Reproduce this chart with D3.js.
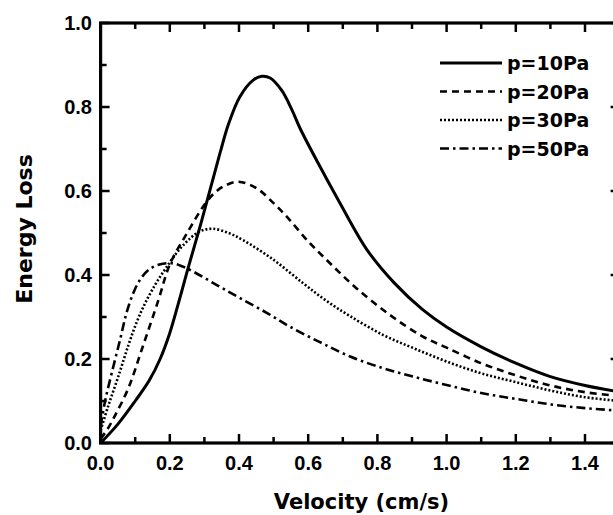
<!DOCTYPE html>
<html>
<head>
<meta charset="utf-8">
<script src="https://cdn.jsdelivr.net/npm/d3@7"></script>
<style>
  html, body { margin: 0; padding: 0; background: #fff; }
  svg { display: block; }
</style>
</head>
<body>
<svg id="chart" width="613" height="515"></svg>
<script>
// ---- data ----
const seriesNames = ["p=10Pa", "p=20Pa", "p=30Pa", "p=50Pa"];
const p10 = [[0,0],[0.05,0.045],[0.1,0.1],[0.14,0.148],[0.172,0.2],[0.2,0.262],[0.225,0.333],[0.25,0.408],[0.29,0.523],[0.345,0.69],[0.369,0.758],[0.403,0.825],[0.441,0.864],[0.466,0.873],[0.49,0.869],[0.523,0.84],[0.552,0.795],[0.576,0.75],[0.625,0.672],[0.69,0.574],[0.77,0.46],[0.85,0.38],[0.93,0.318],[1.0,0.276],[1.1,0.229],[1.2,0.19],[1.3,0.158],[1.4,0.137],[1.5,0.122]];
const p20 = [[0,0.01],[0.02,0.033],[0.042,0.066],[0.08,0.13],[0.12,0.225],[0.167,0.34],[0.2,0.425],[0.25,0.5],[0.3,0.567],[0.33,0.596],[0.36,0.613],[0.398,0.622],[0.45,0.607],[0.5,0.571],[0.54,0.537],[0.6,0.48],[0.663,0.428],[0.74,0.368],[0.836,0.305],[0.93,0.254],[1.0,0.227],[1.1,0.19],[1.2,0.161],[1.3,0.137],[1.4,0.121],[1.5,0.112]];
const p30 = [[0,0.03],[0.022,0.088],[0.051,0.158],[0.08,0.232],[0.105,0.289],[0.13,0.335],[0.16,0.38],[0.19,0.418],[0.225,0.458],[0.26,0.488],[0.29,0.505],[0.325,0.51],[0.37,0.5],[0.412,0.483],[0.5,0.436],[0.586,0.38],[0.65,0.34],[0.721,0.302],[0.817,0.257],[0.904,0.226],[1.0,0.194],[1.1,0.166],[1.2,0.145],[1.3,0.125],[1.4,0.109],[1.5,0.1]];
const p50 = [[0,0.04],[0.013,0.1],[0.032,0.166],[0.056,0.245],[0.075,0.31],[0.095,0.358],[0.115,0.39],[0.14,0.413],[0.17,0.425],[0.205,0.428],[0.235,0.421],[0.268,0.408],[0.336,0.376],[0.403,0.345],[0.48,0.31],[0.547,0.277],[0.634,0.24],[0.721,0.206],[0.817,0.178],[0.904,0.158],[1.0,0.138],[1.1,0.119],[1.2,0.105],[1.3,0.092],[1.4,0.083],[1.5,0.077]];
const xMajorTicks = [0.0,0.2,0.4,0.6,0.8,1.0,1.2,1.4];
const xMinorTicks = [0.1,0.3,0.5,0.7,0.9,1.1,1.3];
const yMajorTicks = [0.0,0.2,0.4,0.6,0.8,1.0];
const yMinorTicks = [0.1,0.3,0.5,0.7,0.9];
const xTitle = "Velocity (cm/s)";
const yTitle = "Energy Loss";

// ---- layout ----
const svg = d3.select("#chart");
const L = 100.6, R = 619.6, T = 23, B = 443;
const x = d3.scaleLinear().domain([0, 1.5]).range([L, R]);
const y = d3.scaleLinear().domain([0, 1]).range([B, T]);

const styles = [
  {dash: null, w: 3},
  {dash: "7,5", w: 2.6},
  {dash: "2,2", w: 2.6},
  {dash: "9,4,2.5,4", w: 2.6}
];
const allSeries = [p10, p20, p30, p50];

svg.append("clipPath").attr("id", "clip")
  .append("rect").attr("x", L).attr("y", T).attr("width", R - L).attr("height", B - T);

const line = d3.line().x(d => x(d[0])).y(d => y(d[1])).curve(d3.curveCatmullRom.alpha(0.5));
const gLines = svg.append("g").attr("clip-path", "url(#clip)");
allSeries.forEach((s, i) => {
  gLines.append("path").datum(s)
    .attr("d", line)
    .attr("fill", "none")
    .attr("stroke", "#000")
    .attr("stroke-width", styles[i].w)
    .attr("stroke-dasharray", styles[i].dash)
    .attr("stroke-linejoin", "round");
});

// ticks (inward)
const gt = svg.append("g").attr("stroke", "#000").attr("stroke-width", 2.5);
function xTicks(vals, len) {
  vals.forEach(v => {
    gt.append("line").attr("x1", x(v)).attr("x2", x(v)).attr("y1", B).attr("y2", B - len);
    gt.append("line").attr("x1", x(v)).attr("x2", x(v)).attr("y1", T).attr("y2", T + len);
  });
}
function yTicks(vals, len) {
  vals.forEach(v => {
    gt.append("line").attr("y1", y(v)).attr("y2", y(v)).attr("x1", L).attr("x2", L + len);
    gt.append("line").attr("y1", y(v)).attr("y2", y(v)).attr("x1", R).attr("x2", R - len);
  });
}
xTicks(xMajorTicks, 9); xTicks(xMinorTicks, 6);
yTicks(yMajorTicks, 9); yTicks(yMinorTicks, 6);

// frame
svg.append("rect").attr("x", L).attr("y", T).attr("width", R - L).attr("height", B - T)
  .attr("fill", "none").attr("stroke", "#000").attr("stroke-width", 3.2);

// tick labels
const fmt = d3.format(".1f");
const labFont = "'Liberation Sans', Arial, sans-serif";
svg.append("g").selectAll("text").data(xMajorTicks).join("text")
  .attr("x", d => x(d)).attr("y", 470)
  .attr("text-anchor", "middle")
  .style("font-family", labFont).style("font-weight", "bold").style("font-size", "20px")
  .text(fmt);
svg.append("g").selectAll("text").data(yMajorTicks).join("text")
  .attr("x", 92).attr("y", d => y(d) + 7)
  .attr("text-anchor", "end")
  .style("font-family", labFont).style("font-weight", "bold").style("font-size", "20px")
  .text(fmt);

// titles
svg.append("text").attr("x", 361.5).attr("y", 509)
  .attr("text-anchor", "middle")
  .style("font-family", "'DejaVu Sans', sans-serif").style("font-weight", "bold").style("font-size", "21px")
  .text(xTitle);
svg.append("text").attr("transform", "translate(32,229) rotate(-90)")
  .attr("text-anchor", "middle")
  .style("font-family", "'DejaVu Sans', sans-serif").style("font-weight", "bold").style("font-size", "22px")
  .text(yTitle);

// legend
const legRows = [63, 91.5, 120, 148.5];
const leg = svg.append("g");
seriesNames.forEach((name, i) => {
  leg.append("line").attr("x1", 440).attr("x2", 502).attr("y1", legRows[i]).attr("y2", legRows[i])
    .attr("stroke", "#000").attr("stroke-width", styles[i].w)
    .attr("stroke-dasharray", styles[i].dash);
  leg.append("text").attr("x", 507).attr("y", legRows[i] + 7)
    .style("font-family", "'DejaVu Sans', sans-serif").style("font-weight", "bold").style("font-size", "19px")
    .text(name);
});
</script>
</body>
</html>
